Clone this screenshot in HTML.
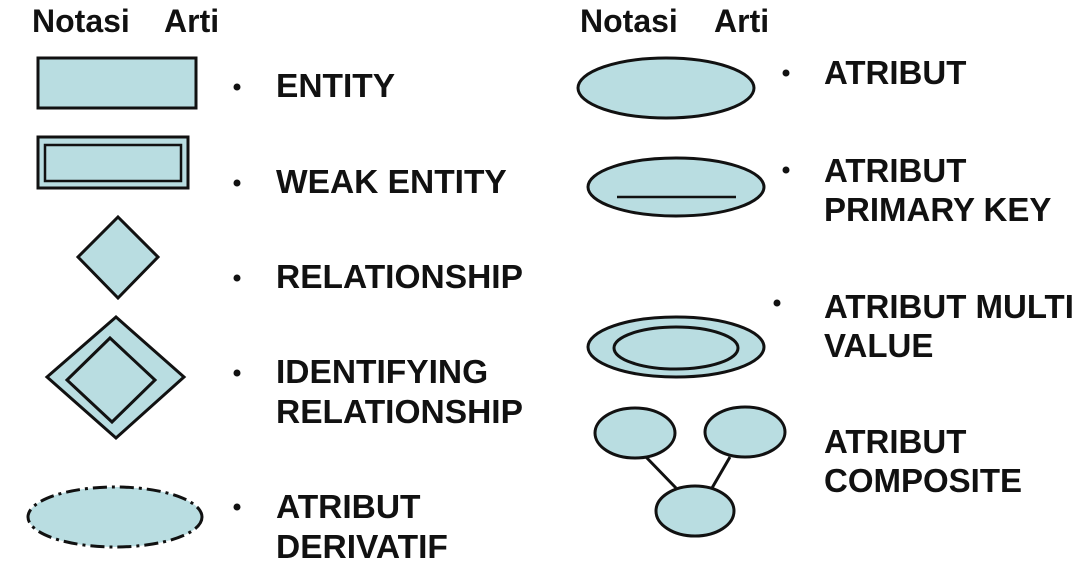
<!DOCTYPE html>
<html><head><meta charset="utf-8"><style>
html,body{margin:0;padding:0;background:#fff;}
svg{display:block;}
text{font-family:"Liberation Sans",Arial,sans-serif;font-weight:bold;fill:#111;}
</style></head><body>
<svg width="1081" height="572" viewBox="0 0 1081 572" xmlns="http://www.w3.org/2000/svg">
<g font-size="32">
<text x="32" y="32">Notasi</text><text x="164" y="32">Arti</text>
<text x="580" y="32">Notasi</text><text x="714" y="32">Arti</text>
</g>
<g fill="#b9dde1" stroke="#111" stroke-width="3">
<rect x="38" y="58" width="158" height="50"/>
<rect x="38" y="137" width="150" height="51"/>
<rect x="45" y="145" width="136" height="36" stroke-width="2.5"/>
<polygon points="118,217 158,257 118,298 78,257"/>
<polygon points="116,317 184,377 116,438 47,377"/>
<polygon points="110,338 155,380 112,422 67,380"/>
<ellipse cx="115" cy="517" rx="87" ry="30" stroke-dasharray="14,5,3,5"/>
<ellipse cx="666" cy="88" rx="88" ry="30"/>
<ellipse cx="676" cy="187" rx="88" ry="29"/>
<line x1="617" y1="197" x2="736" y2="197" stroke-width="2.5"/>
<ellipse cx="676" cy="347" rx="88" ry="30"/>
<ellipse cx="676" cy="348" rx="62" ry="21"/>
<line x1="645" y1="456" x2="676" y2="488"/>
<line x1="730" y1="457" x2="712" y2="488"/>
<ellipse cx="635" cy="433" rx="40" ry="25"/>
<ellipse cx="745" cy="432" rx="40" ry="25"/>
<ellipse cx="695" cy="511" rx="39" ry="25"/>
</g>
<g fill="#111">
<circle cx="237" cy="87" r="3.5"/><circle cx="237" cy="183" r="3.5"/>
<circle cx="237" cy="278" r="3.5"/><circle cx="237" cy="373" r="3.5"/>
<circle cx="237" cy="507" r="3.5"/>
<circle cx="786" cy="73" r="3.5"/><circle cx="786" cy="170" r="3.5"/>
<circle cx="777" cy="303" r="3.5"/>
</g>
<g font-size="33.5">
<text x="276" y="97">ENTITY</text>
<text x="276" y="193">WEAK ENTITY</text>
<text x="276" y="288">RELATIONSHIP</text>
<text x="276" y="383">IDENTIFYING</text>
<text x="276" y="423">RELATIONSHIP</text>
<text x="276" y="518">ATRIBUT</text>
<text x="276" y="558">DERIVATIF</text>
</g>
<g font-size="33">
<text x="824" y="84">ATRIBUT</text>
<text x="824" y="182">ATRIBUT</text>
<text x="824" y="221">PRIMARY KEY</text>
<text x="824" y="318">ATRIBUT MULTI</text>
<text x="824" y="357">VALUE</text>
<text x="824" y="453">ATRIBUT</text>
<text x="824" y="492">COMPOSITE</text>
</g>
</svg>
</body></html>
